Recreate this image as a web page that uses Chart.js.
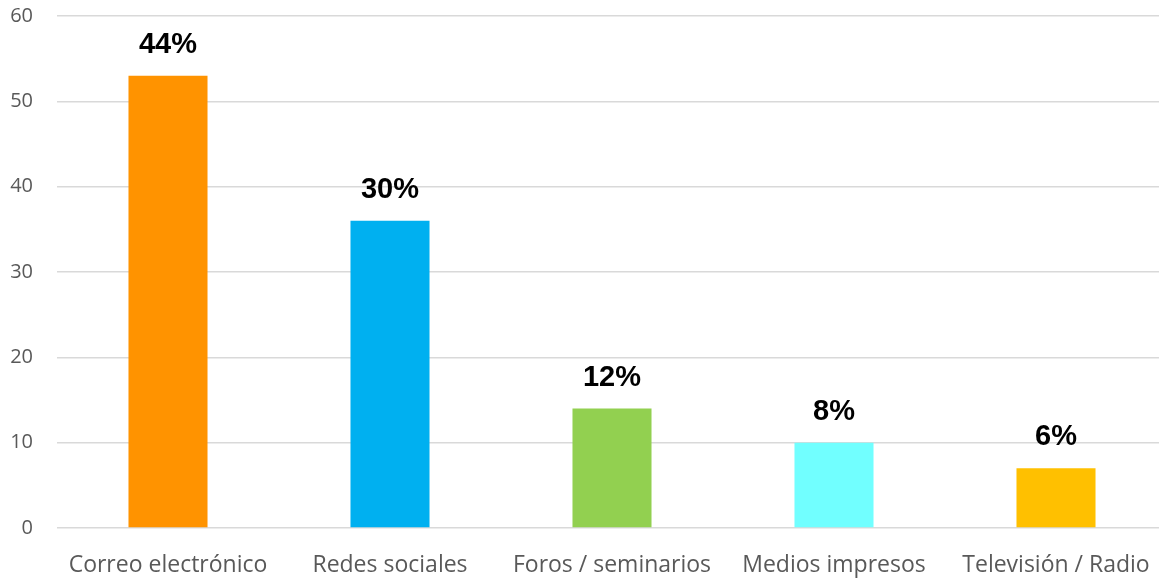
<!DOCTYPE html>
<html>
<head>
<meta charset="utf-8">
<script src="https://cdn.jsdelivr.net/npm/chart.js@4/dist/chart.umd.min.js"></script>
<style>
html,body{margin:0;padding:0;background:#fff;overflow:hidden;width:1159px;height:578px;}
#wrap{width:1167px;height:578px;}
</style>
</head>
<body>
<div id="wrap"><canvas id="c" width="1167" height="578"></canvas></div>
<script>
const categories = ["Correo electrónico", "Redes sociales", "Foros / seminarios", "Medios impresos", "Televisión / Radio"];
const values = [53, 36, 14, 10, 7];
const percentLabels = ["44%", "30%", "12%", "8%", "6%"];
const barColors = ["#FF9300", "#00B0F0", "#92D050", "#71FFFF", "#FFC000"];

const labelPlugin = {
  id: 'barLabels',
  afterDatasetsDraw(chart) {
    const ctx = chart.ctx;
    const meta = chart.getDatasetMeta(0);
    ctx.save();
    ctx.font = 'bold 29px "Liberation Sans", Arial, sans-serif';
    ctx.fillStyle = '#000';
    ctx.textAlign = 'center';
    ctx.textBaseline = 'alphabetic';
    meta.data.forEach((bar, i) => {
      ctx.fillText(percentLabels[i], bar.x, bar.y - 23);
    });
    ctx.restore();
  }
};

new Chart(document.getElementById('c'), {
  type: 'bar',
  data: {
    labels: categories,
    datasets: [{
      data: values,
      backgroundColor: barColors,
      borderWidth: 0,
      barPercentage: 0.356,
      categoryPercentage: 1
    }]
  },
  options: {
    responsive: false,
    animation: false,
    layout: { padding: { top: 16, right: 0, left: 0, bottom: 0 } },
    plugins: { legend: { display: false }, tooltip: { enabled: false } },
    scales: {
      x: {
        grid: { display: false, drawTicks: true, tickLength: 24 },
        border: { display: false },
        ticks: {
          color: '#595959',
          font: { family: '"Open Sans", sans-serif', size: 23 },
          padding: 0,
          maxRotation: 0,
          autoSkip: false
        },
        afterFit(scale) { scale.height = 50; }
      },
      y: {
        min: 0, max: 60,
        grid: { color: '#d9d9d9', lineWidth: 1.5, drawTicks: true, tickLength: 23, tickColor: 'rgba(0,0,0,0)' },
        border: { display: false },
        ticks: {
          stepSize: 10,
          color: '#595959',
          font: { family: '"Open Sans", sans-serif', size: 20 },
          padding: 1
        },
        afterFit(scale) { scale.width = 57; }
      }
    }
  },
  plugins: [labelPlugin]
});
</script>
</body>
</html>
